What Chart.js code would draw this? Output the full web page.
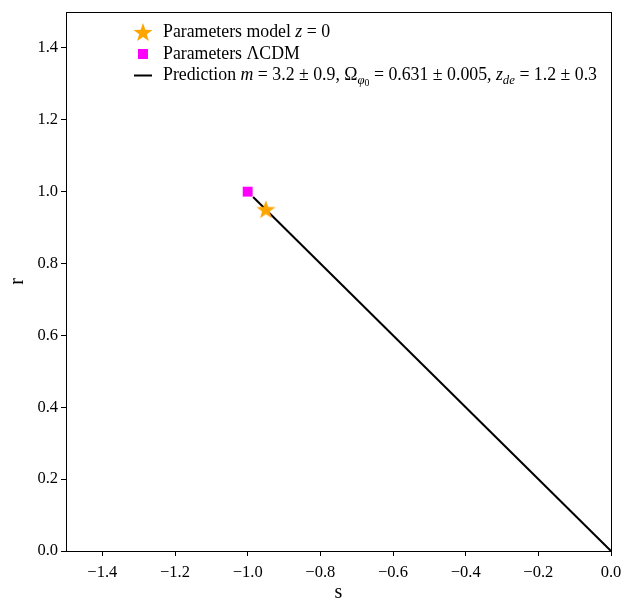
<!DOCTYPE html>
<html>
<head>
<meta charset="utf-8">
<script src="https://cdn.jsdelivr.net/npm/chart.js@4.4.1/dist/chart.umd.min.js"></script>
<style>
  body { margin: 0; background: #fff; }
</style>
</head>
<body>
<canvas id="chart" width="625" height="603"></canvas>
<script>
// data
const starPoint = [{ x: -0.95, y: 0.95 }];        // model z = 0
const lcdmPoint = [{ x: -1.0, y: 1.0 }];          // LCDM
const predS = [-0.985, 0.0];
const predR = [0.985, 0.0];
const xTicks = [-1.4, -1.2, -1.0, -0.8, -0.6, -0.4, -0.2, 0.0];
const yTicks = [0.0, 0.2, 0.4, 0.6, 0.8, 1.0, 1.2, 1.4];

// legend text as runs: [text, style]  n=normal, i=italic, si=sub italic, ss=sub-sub
const legendLabels = [
  [['Parameters model ', 'n'], ['z', 'i'], [' = 0', 'n']],
  [['Parameters ΛCDM', 'n']],
  [['Prediction ', 'n'], ['m', 'i'], [' = 3.2 ± 0.9, Ω', 'n'], ['φ', 'si'], ['0', 'ss'],
   [' = 0.631 ± 0.005, ', 'n'], ['z', 'i'], ['de', 'si'], [' = 1.2 ± 0.3', 'n']]
];

const FONT = '"Liberation Serif", "Times New Roman", serif';
const ORANGE = '#ffa500';
const MAGENTA = '#ff00ff';

function starShape(ctx, cx, cy, ro, ri) {
  ctx.beginPath();
  for (let k = 0; k < 10; k++) {
    const r = k % 2 === 0 ? ro : ri;
    const a = -Math.PI / 2 + k * Math.PI / 5;
    ctx.lineTo(cx + r * Math.cos(a), cy + r * Math.sin(a));
  }
  ctx.closePath();
}

// filled star used as point style
const starImg = document.createElement('canvas');
starImg.width = 22; starImg.height = 22;
(function () {
  const c = starImg.getContext('2d');
  starShape(c, 11, 11.5, 10, 4);
  c.fillStyle = ORANGE;
  c.fill();
})();

const fmt = v => {
  const s = Math.abs(v) < 1e-9 ? '0.0' : v.toFixed(1);
  return s.replace('-', '\u2212');
};

function drawRuns(ctx, runs, x, y, size) {
  ctx.textBaseline = 'middle';
  ctx.textAlign = 'left';
  for (const [t, st] of runs) {
    let fs = size, dy = 0, it = false;
    if (st === 'i') it = true;
    if (st === 'si') { fs = size * 0.72; dy = size * 0.3; it = true; }
    if (st === 'ss') { fs = size * 0.55; dy = size * 0.45; }
    ctx.font = (it ? 'italic ' : '') + fs + 'px ' + FONT;
    ctx.fillText(t, x, y + dy);
    x += ctx.measureText(t).width;
  }
}

const framePlugin = {
  id: 'frame',
  afterDraw(chart) {
    const { ctx, chartArea: a } = chart;
    ctx.save();
    ctx.strokeStyle = '#000';
    ctx.lineWidth = 1;
    ctx.strokeRect(a.left + 0.5, a.top + 0.5, a.right - a.left, a.bottom - a.top);

    // legend
    const mx = 143, tx = 163, y0 = 32.5, dy = 21.5, fs = 17.8;
    // star
    starShape(ctx, mx, y0 + 0.5, 10, 4);
    ctx.fillStyle = ORANGE;
    ctx.fill();
    // square
    ctx.fillStyle = MAGENTA;
    ctx.fillRect(mx - 5, y0 + dy - 5, 10, 10);
    // line
    ctx.strokeStyle = '#000';
    ctx.lineWidth = 2;
    ctx.beginPath();
    ctx.moveTo(mx - 9, y0 + 2 * dy);
    ctx.lineTo(mx + 9, y0 + 2 * dy);
    ctx.stroke();
    ctx.fillStyle = '#000';
    legendLabels.forEach((runs, i) => drawRuns(ctx, runs, tx, y0 + i * dy, fs));
    ctx.restore();
  }
};

new Chart(document.getElementById('chart'), {
  type: 'scatter',
  data: {
    datasets: [
      {
        label: 'Parameters model z = 0',
        data: starPoint,
        pointStyle: starImg,
        pointRadius: 11
      },
      {
        label: 'Parameters ΛCDM',
        data: lcdmPoint,
        pointStyle: 'rect',
        pointRadius: 7,
        backgroundColor: MAGENTA,
        borderWidth: 0
      },
      {
        type: 'line',
        label: 'Prediction',
        data: predS.map((s, i) => ({ x: s, y: predR[i] })),
        borderColor: '#000',
        borderWidth: 2,
        pointRadius: 0,
        fill: false,
        clip: false
      }
    ]
  },
  options: {
    responsive: false,
    animation: false,
    layout: { padding: { top: 12, right: 14, left: 0, bottom: 0 } },
    plugins: {
      legend: { display: false },
      tooltip: { enabled: false }
    },
    scales: {
      x: {
        type: 'linear',
        min: -1.5,
        max: 0,
        afterBuildTicks: s => { s.ticks = xTicks.map(v => ({ value: v })); },
        afterFit: s => { s.height = 52; s.paddingLeft = 0; s.paddingRight = 0; },
        grid: { drawOnChartArea: false, color: '#000', tickLength: 5 },
        border: { color: '#000' },
        ticks: {
          color: '#000',
          font: { family: FONT, size: 16.5 },
          padding: 7,
          maxRotation: 0,
          callback: v => fmt(v)
        },
        title: {
          display: true,
          text: 's',
          color: '#000',
          font: { family: FONT, size: 20 },
          padding: { top: 0, bottom: -2 }
        }
      },
      y: {
        type: 'linear',
        min: 0,
        max: 1.5,
        afterBuildTicks: s => { s.ticks = yTicks.map(v => ({ value: v })); },
        afterFit: s => { s.width = 66; s.paddingTop = 0; s.paddingBottom = 0; },
        grid: { drawOnChartArea: false, color: '#000', tickLength: 5 },
        border: { color: '#000' },
        ticks: {
          color: '#000',
          font: { family: FONT, size: 16.5 },
          padding: 3,
          callback: v => fmt(v)
        },
        title: {
          display: true,
          text: 'r',
          color: '#000',
          font: { family: FONT, size: 20 },
          padding: { top: 6, bottom: 0 }
        }
      }
    }
  },
  plugins: [framePlugin]
});
</script>
</body>
</html>
